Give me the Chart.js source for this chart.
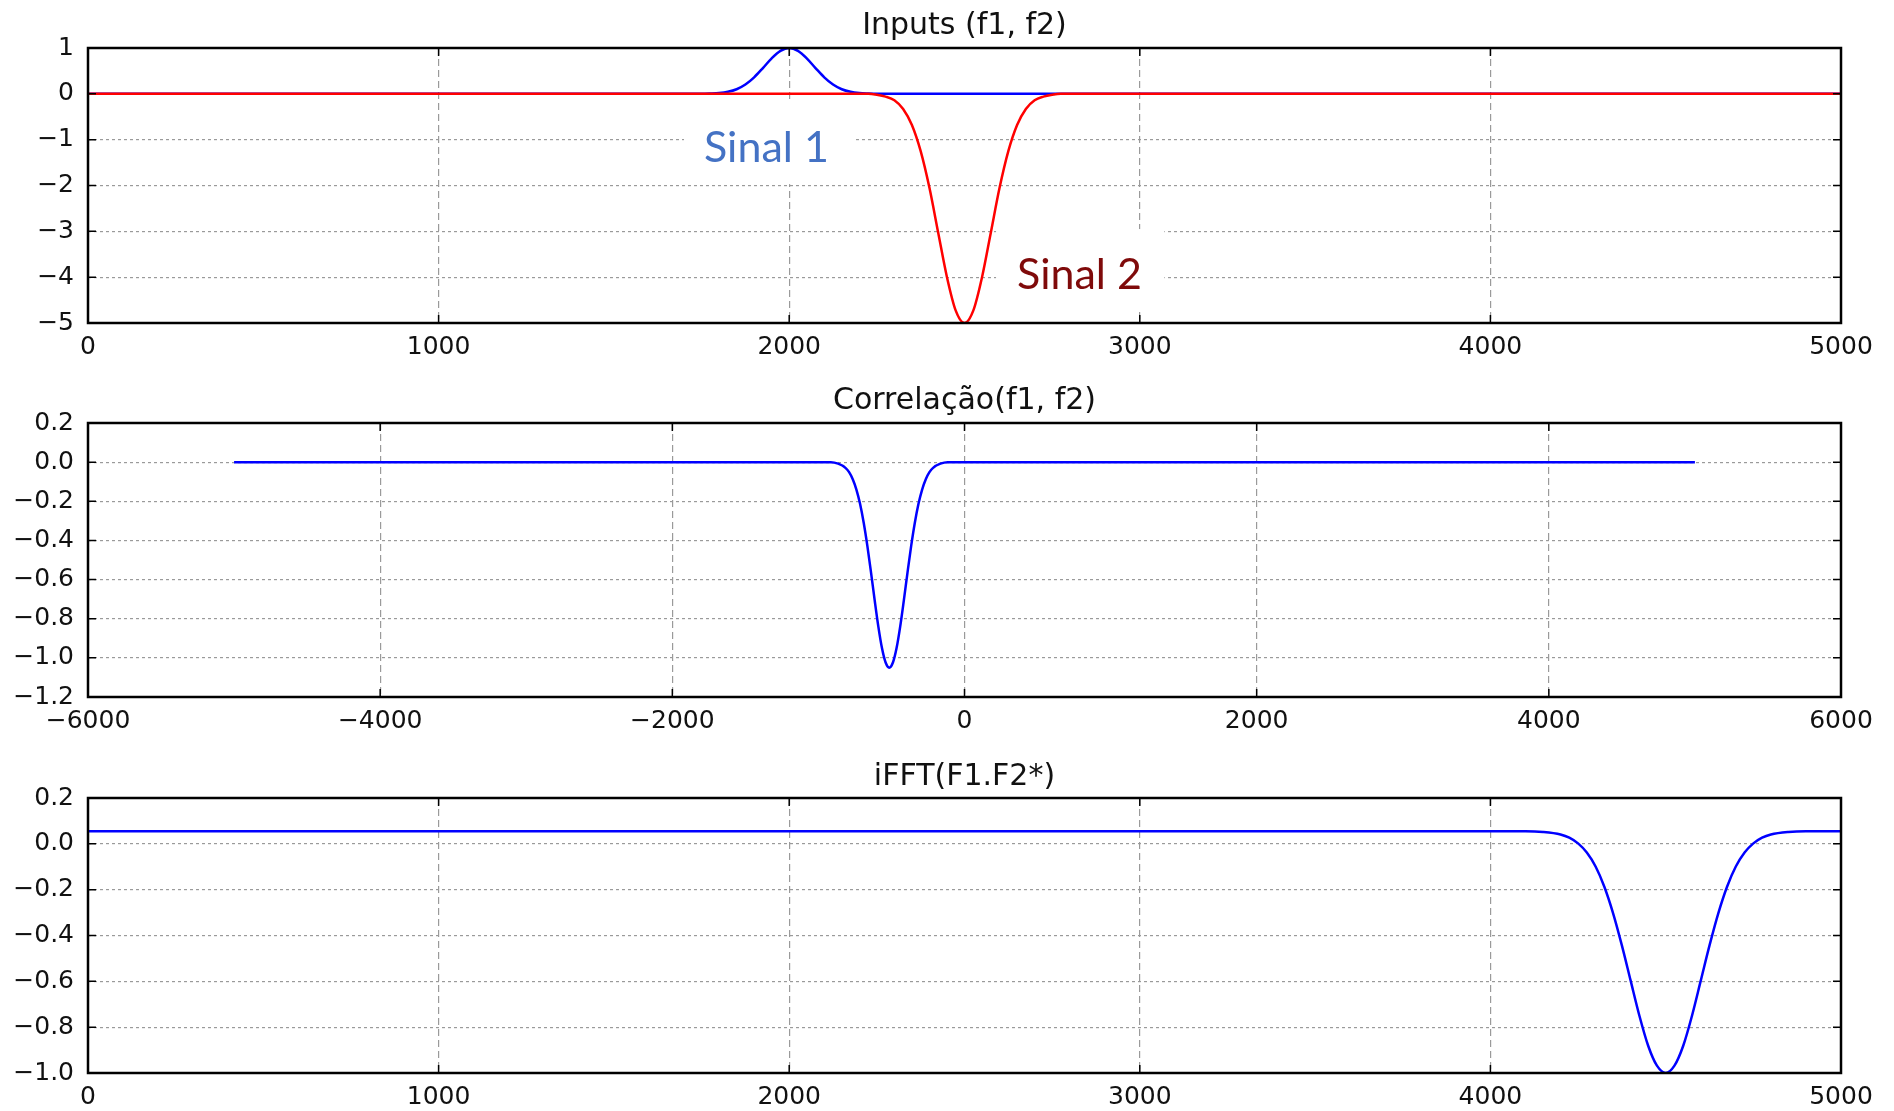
<!DOCTYPE html>
<html>
<head>
<meta charset="utf-8">
<title>Inputs / Correlação / iFFT</title>
<script src="https://cdn.jsdelivr.net/npm/chart.js@4.4.1/dist/chart.umd.min.js"></script>
<style>
  html, body { margin: 0; padding: 0; background: #fff; }
  #wrap { position: relative; width: 1894px; height: 1111px; overflow: hidden; }
  canvas { position: absolute; left: 0; }
</style>
</head>
<body>
<div id="wrap">
  <canvas id="inputs" width="1894" height="375" style="top:0px"></canvas>
  <canvas id="correl" width="1894" height="375" style="top:375px"></canvas>
  <canvas id="ifft" width="1894" height="361" style="top:750px"></canvas>
</div>
<script>
// values

// top panel: Sinal 1 (blue bump at 2000) and Sinal 2 (red dip at 2500)
const sinal1X = [0, 1750, 1775, 1800, 1825, 1850, 1875, 1900, 1925, 1950, 1975, 2000,
                 2025, 2050, 2075, 2100, 2125, 2150, 2175, 2200, 2225, 2250, 5000];
const sinal1Y = [0, 0, 0.006, 0.017, 0.044, 0.10, 0.203, 0.36, 0.563, 0.775, 0.938, 1.0,
                 0.938, 0.775, 0.563, 0.36, 0.203, 0.10, 0.044, 0.017, 0.006, 0, 0];

const sinal2X = [0, 2225, 2250, 2275, 2300, 2325, 2350, 2375, 2400, 2425, 2450, 2475, 2500,
                 2525, 2550, 2575, 2600, 2625, 2650, 2675, 2700, 2725, 2750, 2775, 5000];
const sinal2Y = [0, 0, -0.02, -0.06, -0.14, -0.33, -0.68, -1.25, -2.05, -3.03, -4.0, -4.73, -5.0,
                 -4.73, -4.0, -3.03, -2.05, -1.25, -0.68, -0.33, -0.14, -0.06, -0.02, 0, 0];

// middle panel: correlation (dip near -515)
const corrX = [-5000, -915, -865, -815, -790, -765, -740, -715, -690, -665, -640, -615, -590, -565, -540, -515,
               -490, -465, -440, -415, -390, -365, -340, -315, -290, -265, -240, -215, -165, -115, 5000];
const corrY = [0, 0, -0.008, -0.029, -0.051, -0.087, -0.14, -0.213, -0.31, -0.428, -0.563, -0.705, -0.839, -0.95, -1.024, -1.05,
               -1.024, -0.95, -0.839, -0.705, -0.563, -0.428, -0.31, -0.213, -0.14, -0.087, -0.051, -0.029, -0.008, 0, 0];

// bottom panel: iFFT(F1.F2*)
const ifftX = [0, 4100, 4150, 4200, 4225, 4250, 4275, 4300, 4325, 4350, 4375, 4400, 4425, 4450, 4475, 4500,
               4525, 4550, 4575, 4600, 4625, 4650, 4675, 4700, 4725, 4750, 4775, 4800, 4850, 4900, 5000];
const ifftY = [0.055, 0.055, 0.052, 0.041, 0.027, 0.002, -0.038, -0.099, -0.187, -0.303, -0.443, -0.597, -0.75, -0.881, -0.968, -1.0,
               -0.968, -0.881, -0.75, -0.597, -0.443, -0.303, -0.187, -0.099, -0.038, 0.002, 0.027, 0.041, 0.052, 0.055, 0.055];

// tick settings per panel: [min, max, step]
const inputsXTicks = [0, 5000, 1000];
const inputsYTicks = [-5, 1, 1];
const correlXTicks = [-6000, 6000, 2000];
const correlYTicks = [-1.2, 0.2, 0.2];
const ifftXTicks = [0, 5000, 1000];
const ifftYTicks = [-1.0, 0.2, 0.2];

const FONT = "'DejaVu Sans', 'Liberation Sans', sans-serif";
const NOTE_FONT = "Lato, 'Open Sans', sans-serif";

// text boxes on the top panel (data units)
const inputNotes = [
  { text: 'Sinal 1', x: 1935, y: -1.18, color: '#4472c4', box: [1700, 2190, -0.2, -1.97] },
  { text: 'Sinal 2', x: 2828, y: -3.95, color: '#7f0a0a', box: [2590, 3070, -2.95, -4.75] }
];

function pts(xs, ys) {
  return xs.map((x, i) => ({ x: x, y: ys[i] }));
}

function fmt(digits) {
  return function (v) {
    if (Math.abs(v) < 1e-9) return (0).toFixed(digits);
    return (v < 0 ? '\u2212' : '') + Math.abs(v).toFixed(digits);
  };
}

// box around the axes, inward ticks on all sides, white text boxes
const framePlugin = {
  id: 'frame',
  beforeDatasetsDraw(chart, args, opts) {
    const ctx = chart.ctx;
    const xs = chart.scales.x, ys = chart.scales.y;
    (opts.notes || []).forEach(n => {
      const l = xs.getPixelForValue(n.box[0]), r = xs.getPixelForValue(n.box[1]);
      const t = ys.getPixelForValue(n.box[2]), b = ys.getPixelForValue(n.box[3]);
      ctx.save();
      ctx.fillStyle = '#fff';
      ctx.fillRect(l, t, r - l, b - t);
      ctx.restore();
    });
  },
  afterDatasetsDraw(chart, args, opts) {
    const ctx = chart.ctx;
    const a = chart.chartArea;
    const xs = chart.scales.x, ys = chart.scales.y;
    const tl = 8;
    ctx.save();
    ctx.strokeStyle = '#000';
    ctx.lineWidth = 1.5;
    ctx.beginPath();
    xs.ticks.forEach(t => {
      const px = xs.getPixelForValue(t.value);
      ctx.moveTo(px, a.top); ctx.lineTo(px, a.top + tl);
      ctx.moveTo(px, a.bottom); ctx.lineTo(px, a.bottom - tl);
    });
    ys.ticks.forEach(t => {
      const py = ys.getPixelForValue(t.value);
      ctx.moveTo(a.left, py); ctx.lineTo(a.left + tl, py);
      ctx.moveTo(a.right, py); ctx.lineTo(a.right - tl, py);
    });
    ctx.stroke();
    ctx.lineWidth = 2.5;
    ctx.strokeRect(a.left, a.top, a.right - a.left, a.bottom - a.top);

    (opts.notes || []).forEach(n => {
      ctx.fillStyle = n.color;
      ctx.font = '43px ' + NOTE_FONT;
      ctx.textAlign = 'center';
      ctx.textBaseline = 'middle';
      ctx.fillText(n.text, xs.getPixelForValue(n.x), ys.getPixelForValue(n.y));
    });
    ctx.restore();
  }
};

function makeOptions(cfg) {
  return {
    responsive: false,
    animation: false,
    events: [],
    layout: { padding: { left: 0, right: 53, top: 0, bottom: 0 } },
    plugins: {
      legend: { display: false },
      tooltip: { enabled: false },
      title: {
        display: true,
        text: cfg.title,
        fullSize: false,
        color: '#111',
        font: { family: FONT, size: 30, weight: 'normal', lineHeight: 1.2 },
        padding: { top: cfg.titleTop, bottom: 12 - cfg.titleTop }
      },
      frame: { notes: cfg.notes || [] }
    },
    scales: {
      x: {
        type: 'linear',
        min: cfg.xTicks[0], max: cfg.xTicks[1],
        ticks: {
          stepSize: cfg.xTicks[2], padding: 9, color: '#111', maxRotation: 0, autoSkip: false,
          font: { family: FONT, size: 25 }, callback: fmt(0)
        },
        grid: { color: '#9a9a9a', lineWidth: 1.2, drawTicks: false },
        border: { display: false, dash: [7, 4] },
        afterFit: s => { s.height = cfg.xHeight; }
      },
      y: {
        type: 'linear',
        min: cfg.yTicks[0], max: cfg.yTicks[1],
        ticks: {
          stepSize: cfg.yTicks[2], padding: 14, color: '#111', autoSkip: false,
          font: { family: FONT, size: 25 }, callback: fmt(cfg.yDigits)
        },
        grid: { color: '#9a9a9a', lineWidth: 1.2, drawTicks: false },
        border: { display: false, dash: [3, 3] },
        afterFit: s => { s.width = 88; }
      }
    }
  };
}

function lineSet(data, color, order) {
  return {
    data: data,
    borderColor: color,
    borderWidth: 2.5,
    pointRadius: 0,
    fill: false,
    cubicInterpolationMode: 'monotone',
    order: order
  };
}

new Chart(document.getElementById('inputs'), {
  type: 'line',
  data: {
    datasets: [
      lineSet(pts(sinal2X, sinal2Y), '#ff0000', 0),
      lineSet(pts(sinal1X, sinal1Y), '#0000ff', 1)
    ]
  },
  options: makeOptions({ title: 'Inputs (f1, f2)', titleTop: 8, xTicks: inputsXTicks, yTicks: inputsYTicks,
                         yDigits: 0, xHeight: 52, notes: inputNotes }),
  plugins: [framePlugin]
});

new Chart(document.getElementById('correl'), {
  type: 'line',
  data: { datasets: [lineSet(pts(corrX, corrY), '#0000ff', 0)] },
  options: makeOptions({ title: 'Correlação(f1, f2)', titleTop: 8, xTicks: correlXTicks, yTicks: correlYTicks,
                         yDigits: 1, xHeight: 53 }),
  plugins: [framePlugin]
});

new Chart(document.getElementById('ifft'), {
  type: 'line',
  data: { datasets: [lineSet(pts(ifftX, ifftY), '#0000ff', 0)] },
  options: makeOptions({ title: 'iFFT(F1.F2*)', titleTop: 9, xTicks: ifftXTicks, yTicks: ifftYTicks,
                         yDigits: 1, xHeight: 38 }),
  plugins: [framePlugin]
});
</script>
</body>
</html>
